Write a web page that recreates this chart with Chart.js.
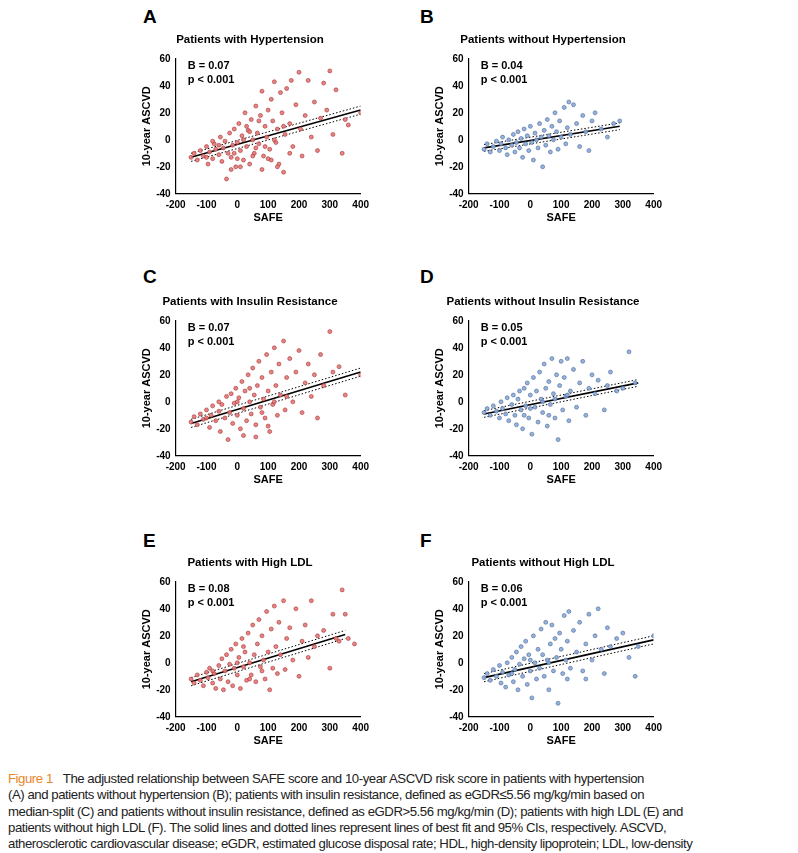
<!DOCTYPE html>
<html><head><meta charset="utf-8">
<script src="https://cdn.jsdelivr.net/npm/chart.js@4"></script>
<style>
body{margin:0;background:#fff;font-family:"Liberation Sans",Arial,sans-serif;width:798px;height:853px;position:relative;overflow:hidden}
.lt{position:absolute;font-weight:bold;font-size:19px}
.cv{position:absolute;width:232px;height:192px}
#cap{position:absolute;left:8px;top:771px;width:785px;font-family:"Liberation Sans",sans-serif;font-size:13.2px;letter-spacing:-0.45px;line-height:16.3px;color:#222}
#cap b{color:#e8862a;font-weight:normal;margin-right:10px}
</style></head><body>
<div class="lt" style="left:143px;top:6px">A</div>
<div class="lt" style="left:420px;top:6px">B</div>
<div class="lt" style="left:143px;top:266px">C</div>
<div class="lt" style="left:420px;top:266px">D</div>
<div class="lt" style="left:143px;top:530px">E</div>
<div class="lt" style="left:420px;top:530px">F</div>
<div class="cv" style="left:138px;top:33px"><canvas id="cA"></canvas></div>
<div class="cv" style="left:431px;top:33px"><canvas id="cB"></canvas></div>
<div class="cv" style="left:138px;top:295px"><canvas id="cC"></canvas></div>
<div class="cv" style="left:431px;top:295px"><canvas id="cD"></canvas></div>
<div class="cv" style="left:138px;top:556px"><canvas id="cE"></canvas></div>
<div class="cv" style="left:431px;top:556px"><canvas id="cF"></canvas></div>
<div id="cap"><b>Figure 1</b>The adjusted relationship between SAFE score and 10-year ASCVD risk score in patients with hypertension<br>(A) and patients without hypertension (B); patients with insulin resistance, defined as eGDR≤5.56 mg/kg/min based on<br>median-split (C) and patients without insulin resistance, defined as eGDR&gt;5.56 mg/kg/min (D); patients with high LDL (E) and<br>patients without high LDL (F). The solid lines and dotted lines represent lines of best fit and 95% CIs, respectively. ASCVD,<br>atherosclerotic cardiovascular disease; eGDR, estimated glucose disposal rate; HDL, high-density lipoprotein; LDL, low-density<br>lipoprotein; SAFE, Steatosis-Associated Fibrosis Estimator.</div>
<script>
// SAFE vs 10-year ASCVD
const ptsA = [[-150,-13],[-140,-10],[-130,-15],[-120,-8],[-110,-12],[-100,-5],[-95,-18],[-90,-9],[-80,-14],[-75,-3],[-70,-7],[-60,-11],[-55,2],[-50,-16],[-45,-6],[-40,-1],[-35,-29],[-30,-10],[-25,5],[-20,-13],[-15,-4],[-10,8],[-5,-20],[0,-2],[5,12],[10,-8],[15,3],[20,-15],[25,20],[30,-5],[35,7],[40,-18],[45,15],[50,0],[55,-10],[60,25],[65,5],[70,-3],[75,18],[80,36],[85,-12],[90,10],[95,2],[100,22],[105,-7],[110,30],[115,14],[120,43],[125,-2],[130,8],[135,-18],[140,35],[145,20],[150,-24],[155,4],[160,38],[170,12],[175,44],[180,-5],[190,26],[200,50],[205,8],[210,-12],[220,18],[230,44],[240,2],[250,28],[260,-8],[270,16],[280,42],[290,22],[300,51],[310,4],[320,37],[340,-10],[350,15],[360,11],[400,20],[0,-14],[20,0],[60,-6],[-60,-4],[40,6],[100,-14],[130,-20],[80,-22],[-20,-22],[-100,-13],[-80,-1],[10,-20],[30,10],[70,14],[90,-5],[110,-15],[150,10],[-10,-10],[50,-12],[120,0],[170,-10]];
const ptsB = [[-150,-7],[-140,-3],[-130,-9],[-120,-5],[-110,-1],[-100,-8],[-95,-3],[-90,2],[-80,-6],[-75,-11],[-70,0],[-60,-4],[-55,4],[-50,-9],[-45,-2],[-40,6],[-35,-6],[-30,1],[-25,-13],[-20,8],[-15,-3],[-10,3],[-5,-8],[0,10],[5,-2],[10,-15],[15,5],[20,0],[25,-6],[30,12],[35,2],[40,-20],[45,7],[50,-4],[55,15],[60,3],[65,-9],[70,10],[75,0],[80,20],[85,6],[90,-7],[95,14],[100,2],[110,24],[115,-3],[120,9],[125,28],[130,4],[140,26],[150,12],[160,-5],[170,18],[180,6],[190,-8],[200,14],[210,20],[230,8],[250,2],[270,12],[290,14]];
const ptsC = [[-150,-15],[-140,-11],[-130,-17],[-120,-9],[-110,-13],[-100,-6],[-90,-19],[-85,-10],[-80,-3],[-70,-14],[-60,-7],[-55,-22],[-50,-2],[-40,-12],[-35,4],[-30,-28],[-25,-8],[-20,6],[-15,-16],[-10,-1],[-5,10],[0,-10],[5,3],[10,-20],[15,15],[20,-5],[25,8],[30,-14],[35,20],[40,0],[45,-9],[50,25],[55,5],[60,-17],[65,12],[70,30],[75,-4],[80,18],[85,2],[90,-12],[95,35],[100,8],[105,-22],[110,22],[115,-2],[120,40],[125,12],[130,-10],[135,28],[140,5],[150,45],[155,-6],[160,18],[170,32],[180,0],[190,22],[200,38],[210,-8],[220,14],[230,28],[240,4],[250,20],[260,-12],[270,35],[280,12],[300,52],[310,22],[330,26],[350,5],[400,20],[-60,0],[0,0],[40,10],[80,-8],[120,0],[160,4],[-100,-12],[20,-25],[60,-26],[100,-18]];
const ptsD = [[-150,-8],[-140,-5],[-130,-10],[-120,-3],[-110,-7],[-100,-12],[-95,0],[-90,-5],[-80,-9],[-75,3],[-70,-14],[-60,-2],[-55,5],[-50,-10],[-45,-17],[-40,2],[-35,8],[-30,-6],[-25,-20],[-20,10],[-15,-3],[-10,14],[-5,-12],[0,5],[5,-24],[10,18],[15,-4],[20,8],[25,-15],[30,22],[35,2],[40,-8],[45,28],[50,10],[55,-18],[60,15],[65,-2],[70,32],[75,6],[80,-12],[85,20],[90,-28],[95,12],[100,30],[105,-6],[110,18],[115,4],[120,32],[125,-14],[130,8],[140,24],[150,-4],[160,14],[170,30],[180,-10],[190,10],[200,20],[210,6],[220,16],[240,-6],[250,12],[260,22],[280,8],[300,10],[320,37],[340,14],[0,-5],[40,0],[80,2],[-20,-10],[60,-10],[120,5]];
const ptsE = [[-150,-12],[-140,-15],[-130,-9],[-120,-13],[-110,-17],[-100,-7],[-95,-11],[-90,-4],[-80,-15],[-75,-8],[-70,-19],[-60,-2],[-55,-12],[-50,3],[-45,-20],[-40,-6],[-35,6],[-30,-14],[-25,-1],[-20,10],[-15,-17],[-10,-4],[-5,14],[0,-9],[5,4],[10,-19],[15,18],[20,-3],[25,8],[30,-13],[35,22],[40,0],[45,-9],[50,28],[55,6],[60,-14],[65,14],[70,32],[75,-3],[80,20],[85,2],[90,-12],[95,38],[100,8],[105,-20],[110,25],[115,-4],[120,42],[125,12],[130,-8],[135,30],[140,6],[150,46],[155,-5],[160,18],[170,26],[180,2],[190,40],[200,-10],[210,16],[220,28],[230,4],[240,46],[250,12],[260,20],[280,24],[300,-4],[310,36],[320,18],[330,16],[340,54],[350,36],[360,18],[380,14],[0,0],[40,-12],[80,-6],[-80,-6],[20,12]];
const ptsF = [[-150,-11],[-140,-8],[-130,-13],[-120,-5],[-110,-10],[-100,-2],[-95,-15],[-90,-7],[-80,-18],[-75,0],[-70,-9],[-60,4],[-55,-14],[-50,-5],[-45,8],[-40,-20],[-35,-1],[-30,12],[-25,-10],[-20,3],[-15,16],[-10,-16],[-5,6],[0,-6],[5,-26],[10,20],[15,0],[20,-12],[25,10],[30,-4],[35,25],[40,6],[45,-10],[50,30],[55,2],[60,-20],[65,14],[70,28],[75,-6],[80,18],[85,4],[90,-30],[95,22],[100,10],[105,-8],[110,35],[115,2],[120,16],[125,38],[130,-4],[140,24],[150,8],[160,30],[170,-6],[180,14],[190,36],[200,2],[210,20],[220,40],[230,10],[240,-8],[250,26],[260,12],[280,18],[300,22],[320,4],[340,-10],[350,12],[400,20],[0,2],[60,0],[120,-12],[-60,-8],[180,-12]];

const fitA = [[-150,-13],[400,22]], fitB = [[-150,-6],[290,10]], fitC = [[-150,-16],[400,22]];
const fitD = [[-150,-9],[350,14]], fitE = [[-150,-14],[350,21]], fitF = [[-150,-11],[400,17]];
const ciA = 3, ciB = 2.5, ciC = 3, ciD = 2.5, ciE = 3, ciF = 3;

const xTicks = [-200, -100, 0, 100, 200, 300, 400];
const yTicks = [-40, -20, 0, 20, 40, 60];

const RED = ["rgba(226,120,120,0.9)", "#a33"];
const BLUE = ["rgba(140,170,215,0.9)", "#4a6a9a"];

const statsText = {
  id: "stats",
  afterDraw(chart, args, opts) {
    const { ctx, chartArea } = chart;
    ctx.save();
    ctx.font = "bold 11px 'Liberation Sans', Arial";
    ctx.fillStyle = "#000";
    ctx.fillText("B = " + opts.b, chartArea.left + 12, chartArea.top + 10);
    ctx.fillText("p < 0.001", chartArea.left + 12, chartArea.top + 24);
    ctx.restore();
  }
};

function lineSet(pts, off, dash) {
  return {
    type: "line",
    data: pts.map(p => ({ x: p[0], y: p[1] + off })),
    borderColor: "#000",
    borderWidth: dash ? 1 : 1.6,
    borderDash: dash ? [1.5, 2] : [],
    pointRadius: 0,
    fill: false
  };
}

function makePanel(id, title, pts, fit, ci, b, col) {
  new Chart(document.getElementById(id), {
    type: "scatter",
    data: {
      datasets: [
        { data: pts.map(p => ({ x: p[0], y: p[1] })), backgroundColor: col[0], borderColor: col[1], borderWidth: 0.6, pointRadius: 2 },
        lineSet(fit, 0, false),
        lineSet(fit, ci, true),
        lineSet(fit, -ci, true)
      ]
    },
    options: {
      animation: false,
      responsive: true,
      maintainAspectRatio: false,
      layout: { padding: { right: 8 } },
      plugins: {
        legend: { display: false },
        tooltip: { enabled: false },
        title: { display: true, text: title, color: "#000", font: { size: 11.5, weight: "bold", family: "Liberation Sans" }, padding: { top: 0, bottom: 12 } },
        stats: { b: b }
      },
      scales: {
        x: {
          type: "linear", min: -200, max: 400,
          afterBuildTicks: ax => { ax.ticks = xTicks.map(v => ({ value: v })); },
          grid: { display: false, drawTicks: true, tickLength: 4, tickColor: "#000" },
          border: { color: "#000", width: 1.2 },
          ticks: { color: "#000", font: { size: 10, weight: "bold" }, maxRotation: 0, padding: 1 },
          title: { display: true, text: "SAFE", color: "#000", font: { size: 11, weight: "bold" }, padding: 0 }
        },
        y: {
          min: -40, max: 60,
          afterBuildTicks: ax => { ax.ticks = yTicks.map(v => ({ value: v })); },
          grid: { display: false, drawTicks: true, tickLength: 4, tickColor: "#000" },
          border: { color: "#000", width: 1.2 },
          ticks: { color: "#000", font: { size: 10, weight: "bold" }, padding: 1 },
          title: { display: true, text: "10-year ASCVD", color: "#000", font: { size: 11, weight: "bold" }, padding: 2 }
        }
      }
    },
    plugins: [statsText]
  });
}

makePanel("cA", "Patients with Hypertension", ptsA, fitA, ciA, "0.07", RED);
makePanel("cB", "Patients without Hypertension", ptsB, fitB, ciB, "0.04", BLUE);
makePanel("cC", "Patients with Insulin Resistance", ptsC, fitC, ciC, "0.07", RED);
makePanel("cD", "Patients without Insulin Resistance", ptsD, fitD, ciD, "0.05", BLUE);
makePanel("cE", "Patients with High LDL", ptsE, fitE, ciE, "0.08", RED);
makePanel("cF", "Patients without High LDL", ptsF, fitF, ciF, "0.06", BLUE);
</script>
</body></html>
